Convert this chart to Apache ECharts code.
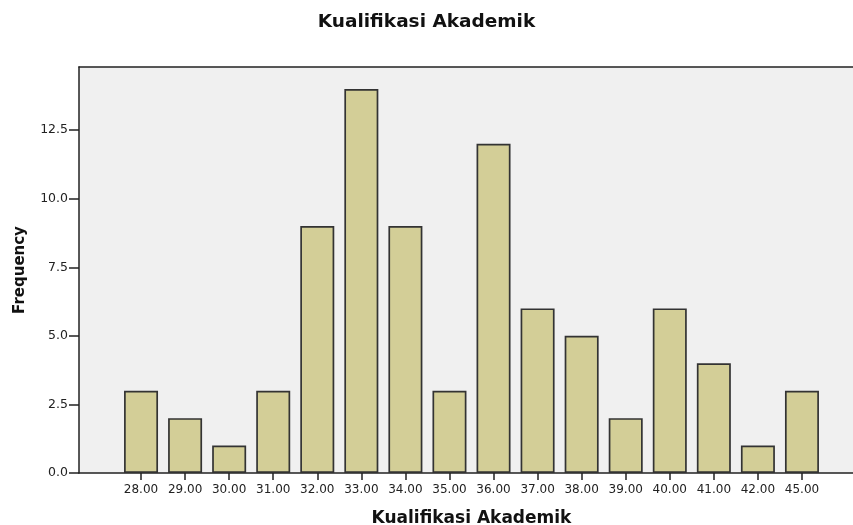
<!DOCTYPE html>
<html>
<head>
<meta charset="utf-8">
<script src="https://cdn.jsdelivr.net/npm/echarts@6/dist/echarts.min.js"></script>
<style>html,body{margin:0;padding:0;background:#fff}#c{width:853px;height:525px}</style>
</head>
<body>
<div id="c"></div>
<script>
const categories = ["28.00","29.00","30.00","31.00","32.00","33.00","34.00","35.00","36.00","37.00","38.00","39.00","40.00","41.00","42.00","45.00"];
const frequencies = [3,2,1,3,9,14,9,3,12,6,5,2,6,4,1,3];
const yTicks = [0, 2.5, 5, 7.5, 10, 12.5];
const titleText = "Kualifikasi Akademik";
const xTitle = "Kualifikasi Akademik";
const yTitle = "Frequency";

const FONT = "'DejaVu Sans', Verdana, sans-serif";
const YMAX = 14.8;
const chart = echarts.init(document.getElementById('c'), null, {renderer: 'canvas'});
chart.setOption({
  animation: false,
  backgroundColor: '#ffffff',
  title: {
    text: titleText, left: 'center', top: 8,
    textStyle: {fontFamily: FONT, fontSize: 18.5, fontWeight: 'bold', color: '#111'}
  },
  grid: [
    {left: 79, right: 0, top: 67, bottom: 52, show: true, backgroundColor: '#f0f0f0', borderWidth: 0,
     containLabel: false, outerBoundsMode: 'none'},
    {left: 119, right: 29, top: 67, bottom: 52, containLabel: false, outerBoundsMode: 'none'}
  ],
  xAxis: [
    {type: 'value', gridIndex: 0, min: 0, max: 1, position: 'bottom',
     axisLine: {show: true, lineStyle: {color: '#222', width: 1.5}},
     axisTick: {show: false}, axisLabel: {show: false}, splitLine: {show: false}},
    {type: 'value', gridIndex: 0, min: 0, max: 1, position: 'top',
     axisLine: {show: true, lineStyle: {color: '#222', width: 1.5}},
     axisTick: {show: false}, axisLabel: {show: false}, splitLine: {show: false}},
    {type: 'category', gridIndex: 1, data: categories, boundaryGap: true,
     name: xTitle, nameLocation: 'middle', nameGap: 37,
     nameTextStyle: {fontFamily: FONT, fontSize: 17, fontWeight: 'bold', color: '#111'},
     axisLine: {show: false},
     axisTick: {show: true, alignWithLabel: true, interval: 0, length: 7, lineStyle: {color: '#222', width: 1.5}},
     axisLabel: {fontFamily: FONT, fontSize: 12, color: '#222', margin: 11, interval: 0}}
  ],
  yAxis: [
    {type: 'value', gridIndex: 0, min: 0, max: YMAX, interval: 2.5,
     name: yTitle, nameLocation: 'middle', nameGap: 51, nameRotate: 90,
     nameTextStyle: {fontFamily: FONT, fontSize: 15, fontWeight: 'bold', color: '#111'},
     axisLine: {show: true, lineStyle: {color: '#222', width: 1.5}},
     axisTick: {show: true, length: 10, lineStyle: {color: '#222', width: 1.5}},
     axisLabel: {fontFamily: FONT, fontSize: 12.5, color: '#222', margin: 11, showMaxLabel: false,
       formatter: v => yTicks.includes(v) ? v.toFixed(1) : ''},
     splitLine: {show: false}},
    {type: 'value', gridIndex: 1, min: 0, max: YMAX, show: false, splitLine: {show: false}}
  ],
  series: [{
    type: 'bar', xAxisIndex: 2, yAxisIndex: 1, data: frequencies, barWidth: 34,
    itemStyle: {color: '#d3ce97', borderColor: '#333333', borderWidth: 1.7}
  }]
});
</script>
</body>
</html>
